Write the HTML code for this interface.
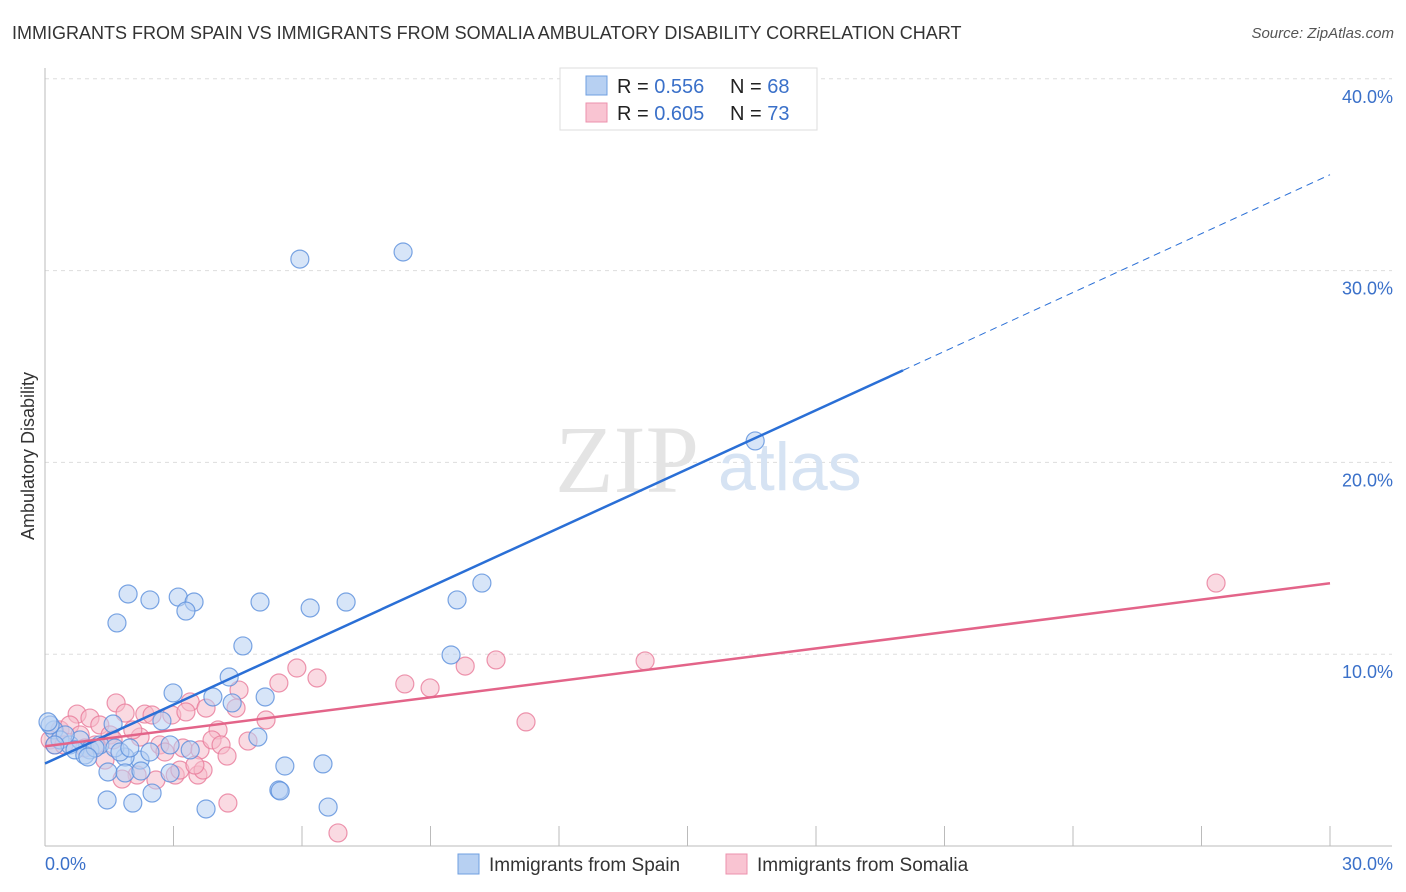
<!DOCTYPE html>
<html><head><meta charset="utf-8"><style>
body{margin:0;background:#fff;font-family:"Liberation Sans",sans-serif;}
#wrap{position:relative;width:1406px;height:892px;overflow:hidden;}
.t{position:absolute;white-space:nowrap;}
</style></head><body>
<div id="wrap">
<div class="t" style="left:12px;top:23px;font-size:18px;color:#333;">IMMIGRANTS FROM SPAIN VS IMMIGRANTS FROM SOMALIA AMBULATORY DISABILITY CORRELATION CHART</div>
<div class="t" style="right:12px;top:25px;font-size:15px;color:#555;font-style:italic;">Source: ZipAtlas.com</div>
<svg id="svg" width="1406" height="892" style="position:absolute;left:0;top:0"></svg>
</div>
<script>
const xTicks=[0,30];
const yTicks=[10,20,30,40];
const spainX=[],spainY=[],somX=[],somY=[];
const spainPx=[[300,259],[403,252],[755,441],[482,583],[457,600],[451,655],[128,594],[150,600],[178,597],[194,602],[186,611],[117,623],[260,602],[310,608],[346,602],[243,646],[229,677],[173,693],[265,697],[213,697],[232,703],[113,724],[162,721],[258,737],[190,750],[170,745],[140,760],[125,757],[108,772],[125,773],[141,771],[170,773],[285,766],[323,764],[107,800],[133,803],[152,793],[206,809],[279,790],[280,791],[328,807],[54,730],[60,740],[70,745],[80,740],[90,750],[100,745],[65,735],[75,750],[85,755],[95,748],[50,725],[55,745],[115,748],[120,752],[130,748],[150,752],[88,757],[48,722]];
const somPx=[[1216,583],[645,661],[496,660],[465,666],[297,668],[317,678],[405,684],[430,688],[239,690],[279,683],[526,722],[116,703],[77,714],[90,718],[125,713],[145,714],[172,715],[190,702],[186,712],[206,708],[266,720],[218,730],[236,708],[140,737],[160,745],[183,748],[200,750],[212,740],[221,745],[248,741],[137,775],[156,780],[175,775],[198,775],[203,770],[122,779],[228,803],[338,833],[227,756],[100,725],[110,735],[95,745],[60,730],[70,725],[80,735],[50,740],[55,745],[105,760],[152,715],[133,730],[165,752],[113,740],[64,745],[85,748],[180,770],[195,765]];
// convert read positions to data values
const toX=p=>+((p-45)/1285*30).toFixed(2), toY=p=>+((846-p)/19.18).toFixed(2);
spainPx.forEach(p=>{spainX.push(toX(p[0]));spainY.push(toY(p[1]));});
somPx.forEach(p=>{somX.push(toX(p[0]));somY.push(toY(p[1]));});
const spainLine=[4.3,35.0], somLine=[5.2,13.7];
const X=v=>45+v/30*1285, Y=v=>846-v*19.18;
const svg=document.getElementById('svg');const NS='http://www.w3.org/2000/svg';
function mk(t,a,p){const e=document.createElementNS(NS,t);for(const k in a)e.setAttribute(k,a[k]);(p||svg).appendChild(e);return e;}
yTicks.forEach(v=>{
 const g=mk('line',{x1:45,x2:1392,y1:Y(v),y2:Y(v),stroke:'#ddd','stroke-dasharray':'4,4'});
 
 
 const t=mk('text',{x:1393,y:Y(v)+24,'text-anchor':'end','font-size':18,fill:'#3a70c9'});t.textContent=v.toFixed(1)+'%';
 
 
});
mk('line',{x1:45,x2:45,y1:68,y2:846,stroke:'#bbb'});
mk('line',{x1:45,x2:1392,y1:846,y2:846,stroke:'#bbb'});
for(let i=1;i<=10;i++){const x=45+i*128.5;mk('line',{x1:x,x2:x,y1:826,y2:846,stroke:'#bbb'});}
xTicks.forEach((v,i)=>{const t=mk('text',{x:i?1393:45,y:870,'text-anchor':i?'end':'start','font-size':18,fill:'#3a70c9'});t.textContent=v.toFixed(1)+'%';
 
 });
const yl=mk('text',{x:34,y:456,'text-anchor':'middle','font-size':18,fill:'#333',transform:'rotate(-90 34 456)'});yl.textContent='Ambulatory Disability';


const wm=mk('text',{x:555,y:492,'font-size':96,fill:'#e4e4e4','font-family':'Liberation Serif'});wm.textContent='ZIP';
const wm2=mk('text',{x:718,y:490,'font-size':68,fill:'#d6e3f3'});wm2.textContent='atlas';


function pts(xs,ys,fill,stroke,name){xs.forEach((x,i)=>{const c=mk('circle',{cx:X(x),cy:Y(ys[i]),r:9,fill:fill,'fill-opacity':0.55,stroke:stroke,'stroke-width':1.2,'stroke-opacity':0.8});
 
 });}
pts(somX,somY,'#f6bccb','#e87a9a','somalia-point');
pts(spainX,spainY,'#b7d0f2','#5a8fdc','spain-point');
const bx=20.03,by=spainLine[0]+(spainLine[1]-spainLine[0])*bx/30;
const l1=mk('line',{x1:X(0),y1:Y(spainLine[0]),x2:X(bx),y2:Y(by),stroke:'#2a6fd6','stroke-width':2.5});


mk('line',{x1:X(bx),y1:Y(by),x2:X(30),y2:Y(spainLine[1]),stroke:'#2a6fd6','stroke-width':1,'stroke-dasharray':'7,5'});
const l2=mk('line',{x1:X(0),y1:Y(somLine[0]),x2:X(30),y2:Y(somLine[1]),stroke:'#e36489','stroke-width':2.5});


// legend
mk('rect',{x:560,y:68,width:257,height:62,fill:'#fff',stroke:'#ddd'});
mk('rect',{x:586,y:76,width:21,height:19,fill:'#b7d0f2',stroke:'#6f9fe0'});
mk('rect',{x:586,y:103,width:21,height:19,fill:'#f9c4d2',stroke:'#ec92ad'});
[[0,'0.556','68'],[27,'0.605','73']].forEach(r=>{
 const t=mk('text',{x:617,y:93+r[0],'font-size':20,fill:'#222'});
 t.innerHTML='R = <tspan fill="#3a70c9">'+r[1]+'</tspan><tspan x="730">N = </tspan><tspan fill="#3a70c9">'+r[2]+'</tspan>';
 
 
});
mk('rect',{x:458,y:854,width:21,height:20,fill:'#b7d0f2',stroke:'#6f9fe0'});
mk('rect',{x:726,y:854,width:21,height:20,fill:'#f9c4d2',stroke:'#ec92ad'});
const a=mk('text',{x:489,y:871,'font-size':19,fill:'#333'});a.textContent='Immigrants from Spain';


const b=mk('text',{x:757,y:871,'font-size':19,fill:'#333'});b.textContent='Immigrants from Somalia';


</script>
</body></html>
